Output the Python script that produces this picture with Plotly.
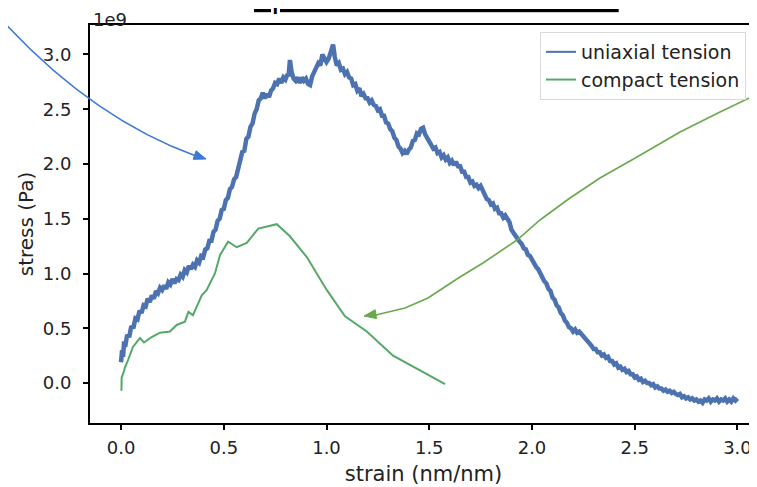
import plotly.graph_objects as go

# uniaxial tension curve (stress in units of 1e9 Pa)
strain_uniaxial = [
    0.000, 0.005, 0.010, 0.015, 0.020, 0.030, 0.040, 0.050, 0.060, 0.070,
    0.080, 0.090, 0.100, 0.110, 0.120, 0.130, 0.140, 0.150, 0.160, 0.170,
    0.180, 0.190, 0.200, 0.210, 0.220, 0.230, 0.240, 0.250, 0.260, 0.270,
    0.280, 0.290, 0.300, 0.310, 0.320, 0.330, 0.340, 0.350, 0.360, 0.370,
    0.380, 0.390, 0.400, 0.410, 0.420, 0.430, 0.440, 0.450, 0.460, 0.470,
    0.480, 0.490, 0.500, 0.510, 0.520, 0.530, 0.540, 0.550, 0.560, 0.570,
    0.580, 0.590, 0.600, 0.610, 0.620, 0.630, 0.640, 0.650, 0.660, 0.670,
    0.680, 0.690, 0.700, 0.710, 0.720, 0.730, 0.740, 0.750, 0.760, 0.770,
    0.780, 0.790, 0.800, 0.810, 0.815, 0.822, 0.830, 0.840, 0.850, 0.860,
    0.870, 0.880, 0.890, 0.900, 0.910, 0.920, 0.930, 0.940, 0.950, 0.960,
    0.970, 0.980, 0.990, 1.000, 1.010, 1.020, 1.032, 1.040, 1.050, 1.060,
    1.070, 1.080, 1.090, 1.100, 1.110, 1.120, 1.130, 1.140, 1.150, 1.160,
    1.170, 1.180, 1.190, 1.200, 1.210, 1.220, 1.230, 1.240, 1.250, 1.260,
    1.270, 1.280, 1.290, 1.300, 1.310, 1.320, 1.330, 1.340, 1.350, 1.360,
    1.370, 1.380, 1.390, 1.400, 1.410, 1.420, 1.430, 1.440, 1.450, 1.460,
    1.470, 1.480, 1.490, 1.500, 1.510, 1.520, 1.530, 1.540, 1.550, 1.560,
    1.570, 1.580, 1.590, 1.600, 1.610, 1.620, 1.630, 1.640, 1.650, 1.660,
    1.670, 1.680, 1.690, 1.700, 1.710, 1.720, 1.730, 1.740, 1.750, 1.760,
    1.770, 1.780, 1.790, 1.800, 1.810, 1.820, 1.830, 1.840, 1.850, 1.860,
    1.870, 1.880, 1.890, 1.900, 1.910, 1.920, 1.930, 1.940, 1.950, 1.960,
    1.970, 1.980, 1.990, 2.000, 2.010, 2.020, 2.030, 2.040, 2.050, 2.060,
    2.070, 2.080, 2.090, 2.100, 2.110, 2.120, 2.130, 2.140, 2.150, 2.160,
    2.170, 2.180, 2.190, 2.200, 2.210, 2.220, 2.230, 2.240, 2.250, 2.260,
    2.270, 2.280, 2.290, 2.300, 2.310, 2.320, 2.330, 2.340, 2.350, 2.360,
    2.370, 2.380, 2.390, 2.400, 2.410, 2.420, 2.430, 2.440, 2.450, 2.460,
    2.470, 2.480, 2.490, 2.500, 2.510, 2.520, 2.530, 2.540, 2.550, 2.560,
    2.570, 2.580, 2.590, 2.600, 2.610, 2.620, 2.630, 2.640, 2.650, 2.660,
    2.670, 2.680, 2.690, 2.700, 2.710, 2.720, 2.730, 2.740, 2.750, 2.760,
    2.770, 2.780, 2.790, 2.800, 2.810, 2.820, 2.830, 2.840, 2.850, 2.860,
    2.870, 2.880, 2.890, 2.900, 2.910, 2.920, 2.930, 2.940, 2.950, 2.960,
    2.970, 2.980, 2.990, 3.000,
]
stress_uniaxial = [
    0.19, 0.30, 0.24, 0.38, 0.33, 0.44, 0.42, 0.52, 0.50, 0.59,
    0.58, 0.66, 0.64, 0.71, 0.70, 0.77, 0.74, 0.80, 0.77, 0.84,
    0.82, 0.87, 0.85, 0.89, 0.86, 0.92, 0.90, 0.95, 0.91, 0.95,
    0.94, 0.99, 0.97, 1.03, 1.01, 1.07, 1.04, 1.08, 1.06, 1.12,
    1.10, 1.16, 1.15, 1.22, 1.23, 1.30, 1.30, 1.38, 1.40, 1.48,
    1.50, 1.58, 1.59, 1.67, 1.69, 1.77, 1.79, 1.86, 1.88, 1.97,
    2.01, 2.11, 2.12, 2.23, 2.25, 2.34, 2.37, 2.46, 2.50, 2.58,
    2.60, 2.65, 2.60, 2.64, 2.61, 2.67, 2.69, 2.74, 2.73, 2.78,
    2.74, 2.79, 2.77, 2.82, 2.80, 2.95, 2.84, 2.78, 2.76, 2.79,
    2.74, 2.79, 2.76, 2.78, 2.73, 2.72, 2.80, 2.85, 2.88, 2.92,
    2.90, 3.00, 2.97, 2.93, 2.96, 3.02, 3.09, 2.98, 2.90, 2.92,
    2.86, 2.87, 2.82, 2.84, 2.79, 2.78, 2.72, 2.73, 2.67, 2.69,
    2.62, 2.64, 2.60, 2.60, 2.56, 2.58, 2.54, 2.53, 2.49, 2.50,
    2.44, 2.44, 2.38, 2.37, 2.32, 2.30, 2.24, 2.22, 2.16, 2.14,
    2.10, 2.12, 2.09, 2.13, 2.15, 2.21, 2.22, 2.28, 2.27, 2.32,
    2.33, 2.27, 2.24, 2.20, 2.18, 2.14, 2.15, 2.10, 2.11, 2.06,
    2.08, 2.04, 2.06, 2.01, 2.03, 1.99, 2.02, 1.98, 1.98, 1.93,
    1.93, 1.88, 1.88, 1.83, 1.84, 1.80, 1.81, 1.78, 1.80, 1.76,
    1.73, 1.68, 1.67, 1.63, 1.64, 1.59, 1.60, 1.55, 1.55, 1.51,
    1.53, 1.49, 1.47, 1.40, 1.37, 1.34, 1.32, 1.29, 1.27, 1.23,
    1.22, 1.17, 1.16, 1.12, 1.09, 1.06, 1.04, 1.00, 0.98, 0.93,
    0.91, 0.86, 0.84, 0.78, 0.76, 0.71, 0.69, 0.64, 0.62, 0.57,
    0.55, 0.51, 0.50, 0.47, 0.49, 0.46, 0.47, 0.45, 0.43, 0.41,
    0.39, 0.36, 0.34, 0.31, 0.31, 0.28, 0.28, 0.25, 0.26, 0.23,
    0.24, 0.20, 0.20, 0.17, 0.18, 0.14, 0.15, 0.12, 0.13, 0.10,
    0.11, 0.08, 0.08, 0.05, 0.06, 0.03, 0.04, 0.01, 0.02, 0.00,
    0.00, -0.02, -0.01, -0.04, -0.03, -0.05, -0.05, -0.07, -0.06, -0.08,
    -0.07, -0.09, -0.08, -0.10, -0.11, -0.10, -0.13, -0.12, -0.14, -0.13,
    -0.15, -0.14, -0.16, -0.15, -0.17, -0.16, -0.18, -0.15, -0.16, -0.14,
    -0.17, -0.15, -0.16, -0.14, -0.17, -0.15, -0.16, -0.14, -0.17, -0.15,
    -0.17, -0.14, -0.16, -0.14,
]

# compact tension curve (stress in units of 1e9 Pa)
strain_compact = [
    0.002, 0.003, 0.011, 0.019, 0.034, 0.058, 0.092, 0.112, 0.149, 0.190,
    0.238, 0.271, 0.311, 0.328, 0.350, 0.393, 0.417, 0.457, 0.482, 0.521,
    0.563, 0.612, 0.668, 0.758, 0.822, 0.904, 1.001, 1.090, 1.196, 1.324,
    1.577,
]
stress_compact = [
    -0.07, 0.05, 0.09, 0.14, 0.21, 0.33, 0.41, 0.37, 0.42, 0.46,
    0.47, 0.53, 0.56, 0.65, 0.62, 0.80, 0.85, 1.00, 1.17, 1.29,
    1.24, 1.28, 1.41, 1.45, 1.34, 1.15, 0.85, 0.61, 0.47, 0.25,
    -0.01,
]

x_ticks = [0.0, 0.5, 1.0, 1.5, 2.0, 2.5, 3.0]
y_ticks = [0.0, 0.5, 1.0, 1.5, 2.0, 2.5, 3.0]

# plot area in page pixels (left, top, right, bottom); the page body adds an 8px offset
PL, PT, PR, PB = 90, 25, 757, 423
W, H = 757, 487
OFF = 8


def px(x):
    return (x - PL) / (PR - PL)


def py(y):
    return 1 - (y - PT) / (PB - PT)


def arrow_head(tip, back, length=12, half=4.5):
    # triangle pointing from back -> tip, in pixel space, returned as paper path
    dx, dy = tip[0] - back[0], tip[1] - back[1]
    n = (dx * dx + dy * dy) ** 0.5
    ux, uy = dx / n, dy / n
    bx, by = tip[0] - ux * length, tip[1] - uy * length
    p1 = (bx - uy * half, by + ux * half)
    p2 = (bx + uy * half, by - ux * half)
    pts = [tip, p1, p2]
    return 'M ' + ' L '.join(f'{px(a):.4f},{py(b):.4f}' for a, b in pts) + ' Z'


font = 'DejaVu Sans, sans-serif'
blue = '#4c72b0'
green = '#55a868'

fig = go.Figure()
fig.add_trace(go.Scatter(x=strain_uniaxial, y=stress_uniaxial, mode='lines',
                         showlegend=False, line=dict(color=blue, width=4.5)))
fig.add_trace(go.Scatter(x=strain_compact, y=stress_compact, mode='lines',
                         showlegend=False, line=dict(color=green, width=2)))
# legend entries with thin sample lines, like the matplotlib legend
fig.add_trace(go.Scatter(x=[None], y=[None], mode='lines', name='uniaxial tension',
                         line=dict(color=blue, width=2)))
fig.add_trace(go.Scatter(x=[None], y=[None], mode='lines', name='compact tension',
                         line=dict(color=green, width=2)))

# curved callout arrows drawn over the figure (slide annotations)
blue_arrow = '#3c78d8'
green_arrow = '#6aa84f'
p0, c, p2 = (0, 18), (91, 118), (196, 156)
shapes = [
    dict(type='path', xref='paper', yref='paper', layer='above',
         path=f'M {px(p0[0]):.4f},{py(p0[1]):.4f} Q {px(c[0]):.4f},{py(c[1]):.4f} {px(p2[0]):.4f},{py(p2[1]):.4f}',
         line=dict(color=blue_arrow, width=1.6)),
    dict(type='path', xref='paper', yref='paper', layer='above',
         path=arrow_head((206, 159), (160, 143)),
         fillcolor=blue_arrow, line=dict(color=blue_arrow, width=1)),
]
green_pts = [(760, 93), (720, 112), (680, 132), (637, 157), (600, 178), (570, 198),
             (540, 220), (517, 240), (483, 263), (460, 277), (428, 298), (405, 308),
             (380, 314), (372, 316)]
shapes.append(dict(type='path', xref='paper', yref='paper', layer='above',
                   path='M ' + ' L '.join(f'{px(a):.4f},{py(b):.4f}' for a, b in green_pts),
                   line=dict(color=green_arrow, width=1.6)))
shapes.append(dict(type='path', xref='paper', yref='paper', layer='above',
                   path=arrow_head((364, 316), (390, 312)),
                   fillcolor=green_arrow, line=dict(color=green_arrow, width=1)))

annotations = [
    dict(text='1e9', xref='paper', yref='paper', x=px(91), y=py(19), xanchor='left',
         yanchor='middle', showarrow=False, font=dict(family=font, size=18, color='#222')),
    dict(text='<u>up to the onset of fracture</u>', xref='paper', yref='paper',
         x=px(436), y=py(-4), xanchor='center', yanchor='middle', showarrow=False,
         font=dict(family='Liberation Sans, Arial, sans-serif', size=32, color='black')),
]

fig.update_layout(
    width=W, height=H,
    margin=dict(l=PL - OFF, r=W - (PR - OFF), t=PT - OFF, b=H - (PB - OFF), pad=0),
    plot_bgcolor='white', paper_bgcolor='white',
    font=dict(family=font, size=18, color='#222'),
    shapes=shapes, annotations=annotations,
    legend=dict(x=px(540), y=py(32), xanchor='left', yanchor='top',
                bgcolor='rgba(255,255,255,0.9)', bordercolor='#d9d9d9', borderwidth=1,
                font=dict(family=font, size=19, color='#222')),
)
fig.update_xaxes(range=[-0.151, 3.095], tickvals=x_ticks, ticktext=[f'{v:.1f}' for v in x_ticks],
                 ticks='outside', ticklen=5, tickwidth=1.5, tickcolor='black', ticklabelstandoff=2,
                 showline=True, linewidth=2, linecolor='black', mirror=True,
                 showgrid=False, zeroline=False, automargin=False,
                 title=dict(text='strain (nm/nm)', font=dict(size=21), standoff=10))
fig.update_yaxes(range=[-0.365, 3.269], tickvals=y_ticks, ticktext=[f'{v:.1f}' for v in y_ticks],
                 ticks='outside', ticklen=5, tickwidth=1.5, tickcolor='black', ticklabelstandoff=8,
                 showline=True, linewidth=2, linecolor='black',
                 showgrid=False, zeroline=False, automargin=False,
                 title=dict(text='stress (Pa)', font=dict(size=20), standoff=4))

fig.write_html('out.html')
